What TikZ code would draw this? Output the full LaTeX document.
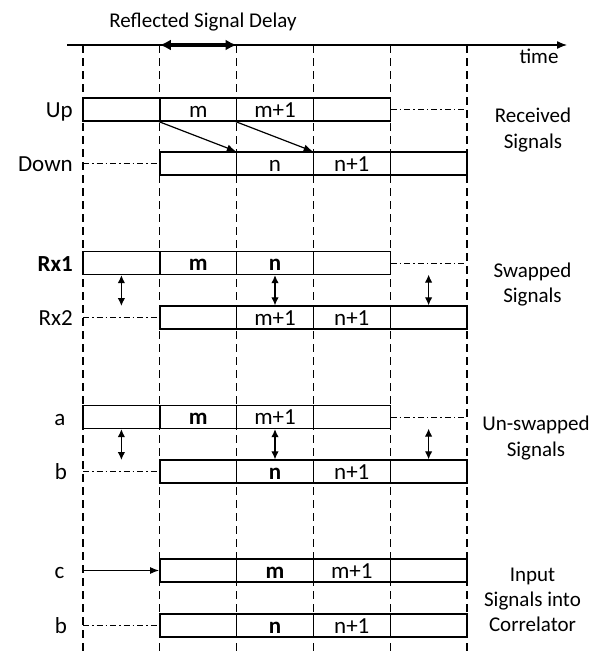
\documentclass[tikz,border=0pt]{standalone}
\usepackage{fontspec}
\setmainfont{Carlito}
\usetikzlibrary{arrows.meta}
\begin{document}
\begin{tikzpicture}[x=1pt,y=-1pt,
  cell/.style={draw, line width=1.4pt, minimum width=76.8pt, minimum height=23pt, inner sep=0pt,
    text height=15pt, text depth=0pt, font=\fontsize{23}{26}\selectfont},
  lbl/.style={anchor=base east, inner sep=0pt, font=\fontsize{23}{26}\selectfont},
  lblc/.style={anchor=base, inner sep=0pt, font=\fontsize{23}{26}\selectfont},
  side/.style={anchor=base, inner sep=0pt, font=\fontsize{21}{25}\selectfont},
  vdash/.style={line width=1.3pt, dash pattern=on 8pt off 5pt},
  ddot/.style={line width=1pt, dash pattern=on 6pt off 3pt on 1.5pt off 3pt},
  tip/.style={-{Latex[length=9pt,width=7pt]}, line width=1.2pt},
  dtip/.style={{Latex[length=8pt,width=7.5pt]}-{Latex[length=8pt,width=7.5pt]}, line width=1.2pt}
]
\useasboundingbox (0,0) rectangle (603,654);

% time axis
\coordinate (ax0) at (67,45);
\coordinate (ax1) at (567,45);
\draw[-{Latex[length=10pt,width=8pt]}, line width=1.3pt] (ax0) -- (ax1);
\node[side] (time) at (539,63) {time};
\node[side] (rsd) at (203,27.5) {Reflected Signal Delay};
\coordinate (dl0) at (159.8,45);
\coordinate (dl1) at (236.6,45);
\draw[{Latex[length=11pt,width=11pt]}-{Latex[length=11pt,width=11pt]}, line width=3.4pt] (dl0) -- (dl1);

% vertical dashed lines
\foreach \i/\x in {1/83,2/159.8,3/236.6,4/313.4,5/390.2,6/467}{
  \coordinate (vt\i) at (\x,45);
  \coordinate (vb\i) at (\x,654);
  \draw[vdash] (vt\i) -- (vb\i);
}

% ---------- Received signals ----------
\node[cell] (up1) at (121.4,109.5) {};
\node[cell] (up2) at (198.2,109.5) {m};
\node[cell] (up3) at (275,109.5) {m+1};
\node[cell] (up4) at (351.8,109.5) {};
\coordinate (upe) at (467,109.5);
\draw[ddot] (up4.east) -- (upe);

\node[cell] (dn2) at (198.2,163.5) {};
\node[cell] (dn3) at (275,163.5) {n};
\node[cell] (dn4) at (351.8,163.5) {n+1};
\node[cell] (dn5) at (428.6,163.5) {};
\coordinate (dns) at (83,163.5);
\draw[ddot] (dns) -- (dn2.west);

\draw[tip] (up2.south west) -- (dn3.north west);
\draw[tip] (up3.south west) -- (dn4.north west);

\node[lbl] (lup) at (73,117) {Up};
\node[lbl] (ldn) at (73,171) {Down};
\node[side] (rs1) at (533,122.7) {Received};
\node[side] (rs2) at (533,148.5) {Signals};

% ---------- Swapped signals ----------
\node[cell] (ra1) at (121.4,263) {};
\node[cell] (ra2) at (198.2,263) {\textbf{m}};
\node[cell] (ra3) at (275,263) {\textbf{n}};
\node[cell] (ra4) at (351.8,263) {};
\coordinate (rae) at (467,263);
\draw[ddot] (ra4.east) -- (rae);

\node[cell] (rb2) at (198.2,317.5) {};
\node[cell] (rb3) at (275,317.5) {m+1};
\node[cell] (rb4) at (351.8,317.5) {n+1};
\node[cell] (rb5) at (428.6,317.5) {};
\coordinate (rbs) at (83,317.5);
\draw[ddot] (rbs) -- (rb2.west);

\coordinate (rarr1) at (121.4,306);
\coordinate (rarr5) at (428.6,274.6);
\draw[dtip] (ra1.south) -- (rarr1);
\draw[dtip] (ra3.south) -- (rb3.north);
\draw[dtip] (rarr5) -- (rb5.north);

\node[lbl] (lra) at (73,271) {\textbf{Rx1}};
\node[lbl] (lrb) at (73,325.5) {Rx2};
\node[side] (ss1) at (532.5,277.3) {Swapped};
\node[side] (ss2) at (532.5,302) {Signals};

% ---------- Un-swapped signals ----------
\node[cell] (aa1) at (121.4,417) {};
\node[cell] (aa2) at (198.2,417) {\textbf{m}};
\node[cell] (aa3) at (275,417) {m+1};
\node[cell] (aa4) at (351.8,417) {};
\coordinate (aae) at (467,417);
\draw[ddot] (aa4.east) -- (aae);

\node[cell] (ab2) at (198.2,471.5) {};
\node[cell] (ab3) at (275,471.5) {\textbf{n}};
\node[cell] (ab4) at (351.8,471.5) {n+1};
\node[cell] (ab5) at (428.6,471.5) {};
\coordinate (abs) at (83,471.5);
\draw[ddot] (abs) -- (ab2.west);

\coordinate (aarr1) at (121.4,460);
\coordinate (aarr5) at (428.6,428.6);
\draw[dtip] (aa1.south) -- (aarr1);
\draw[dtip] (aa3.south) -- (ab3.north);
\draw[dtip] (aarr5) -- (ab5.north);

\node[lblc] (laa) at (60,425) {a};
\node[lblc] (lab) at (61,479.5) {b};
\node[side] (us1) at (536,430) {Un-swapped};
\node[side] (us2) at (536,456) {Signals};

% ---------- Input signals into correlator ----------
\node[cell] (ca2) at (198.2,570.5) {};
\node[cell] (ca3) at (275,570.5) {\textbf{m}};
\node[cell] (ca4) at (351.8,570.5) {m+1};
\node[cell] (ca5) at (428.6,570.5) {};
\coordinate (cas) at (83,570.5);
\draw[tip] (cas) -- (ca2.west);

\node[cell] (cb2) at (198.2,625.5) {};
\node[cell] (cb3) at (275,625.5) {\textbf{n}};
\node[cell] (cb4) at (351.8,625.5) {n+1};
\node[cell] (cb5) at (428.6,625.5) {};
\coordinate (cbs) at (83,625.5);
\draw[ddot] (cbs) -- (cb2.west);

\node[lblc] (lca) at (59.5,578.5) {c};
\node[lblc] (lcb) at (61,633.5) {b};
\node[side] (ic1) at (532.5,581) {Input};
\node[side] (ic2) at (532.5,606.7) {Signals into};
\node[side] (ic3) at (532.5,631.7) {Correlator};
\end{tikzpicture}
\end{document}
